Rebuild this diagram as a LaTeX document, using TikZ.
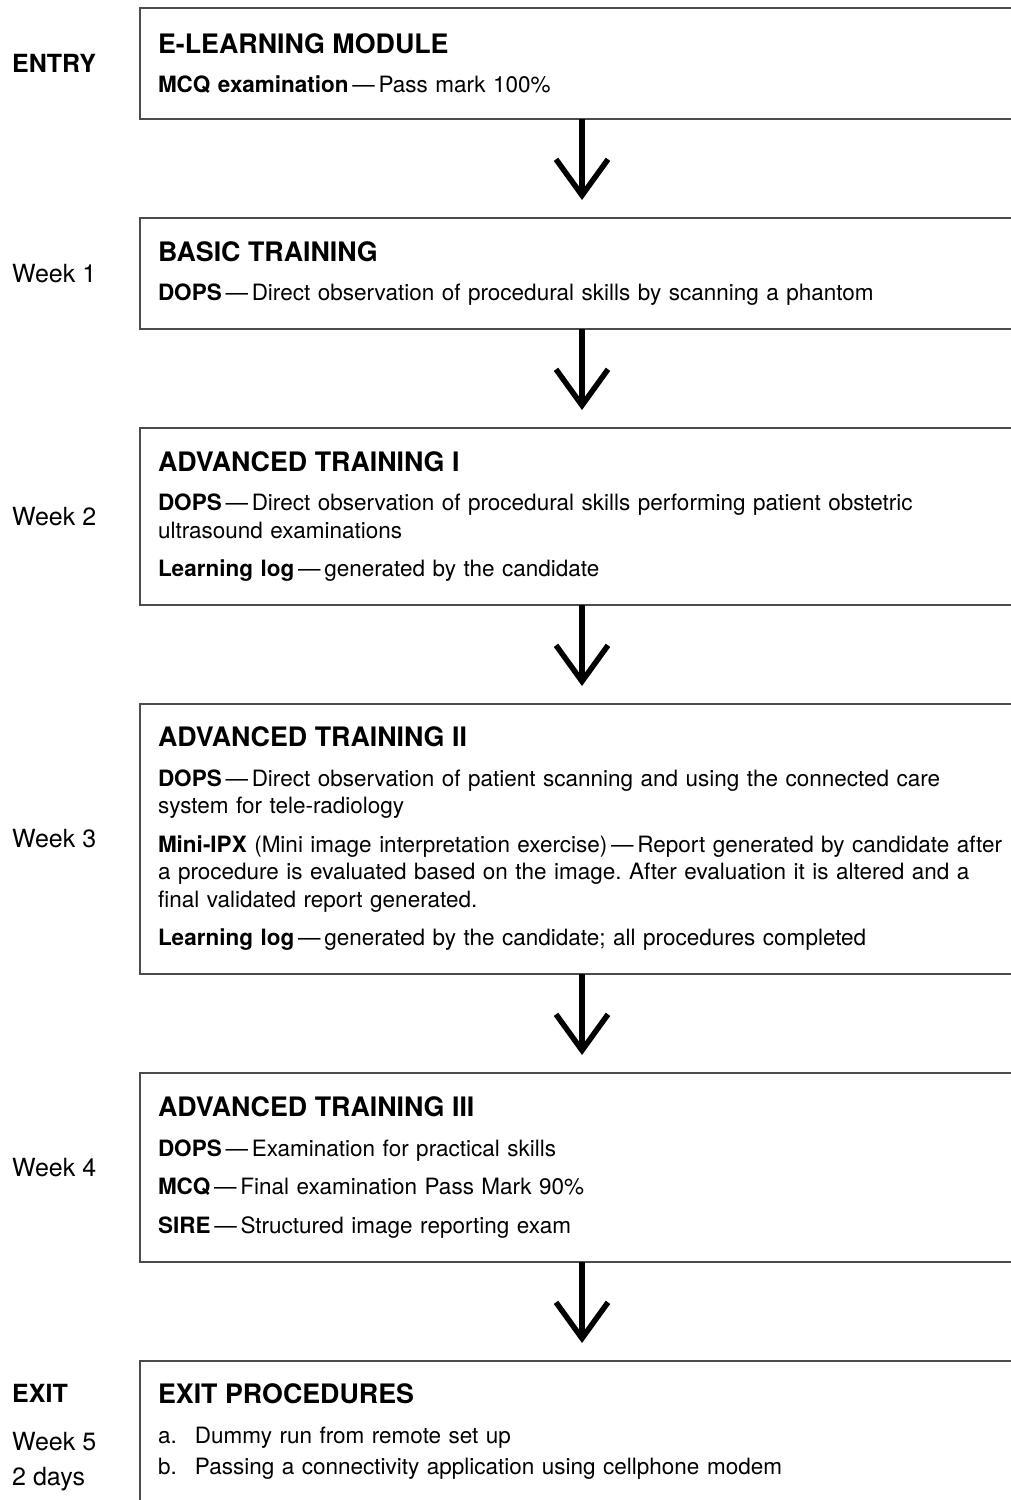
\documentclass[tikz,border=0pt]{standalone}
\usepackage{fontspec}
\setmainfont{TeX Gyre Heros}
\usetikzlibrary{arrows.meta,positioning}
\hyphenpenalty=10000
\exhyphenpenalty=10000
\frenchspacing

\newcommand{\hd}[1]{{\fontsize{26.8}{30}\selectfont\bfseries #1}}
\newcommand{\emd}{\,---\,}

\begin{document}
\begin{tikzpicture}[x=1pt, y=-1pt,
  stage/.style={draw=black!70, line width=1.3pt, minimum width=884pt, text width=848pt,
    inner xsep=18pt, inner ysep=0pt, outer sep=0pt, align=left,
    font=\fontsize{22.5}{27.5}\selectfont},
  wk/.style={anchor=west, inner sep=0pt, font=\fontsize{25}{30}\selectfont},
  flow/.style={line width=5.5pt, -{Straight Barb[length=36pt,width=52pt]}, shorten >=18pt},
  node distance=99pt,
]
\clip (0,0) rectangle (1011,1500);

% stages
\node[stage, minimum height=111pt] (mod) at (582,63.5)
  {\hd{E-LEARNING MODULE}\\[12pt]
   \textbf{MCQ examination}\emd Pass mark 100\%};
\node[stage, minimum height=111pt, below=of mod] (basic)
  {\hd{BASIC TRAINING}\\[12pt]
   \textbf{DOPS}\emd Direct observation of procedural skills by scanning a phantom};
\node[stage, minimum height=177pt, below=of basic] (adv1)
  {\hd{ADVANCED TRAINING I}\\[12pt]
   \textbf{DOPS}\emd Direct observation of procedural skills performing patient obstetric ultrasound examinations\\[11pt]
   \textbf{Learning log}\emd generated by the candidate};
\node[stage, minimum height=270pt, below=of adv1] (adv2)
  {\hd{ADVANCED TRAINING II}\\[12pt]
   \textbf{DOPS}\emd Direct observation of patient scanning and using the connected care system for tele-radiology\\[11pt]
   \textbf{Mini-IPX} (Mini image interpretation exercise)\emd Report generated by candidate after a procedure is evaluated based on the image. After evaluation it is altered and a final validated report generated.\\[11pt]
   \textbf{Learning log}\emd generated by the candidate; all procedures completed};
\node[stage, minimum height=189pt, below=of adv2] (adv3)
  {\hd{ADVANCED TRAINING III}\\[12pt]
   \textbf{DOPS}\emd Examination for practical skills\\[11pt]
   \textbf{MCQ}\emd Final examination Pass Mark 90\%\\[11pt]
   \textbf{SIRE}\emd Structured image reporting exam};
\node[stage, minimum height=142pt, below=of adv3] (exitp)
  {\hd{EXIT PROCEDURES}\\[12pt]
   \makebox[37pt][l]{a.}Dummy run from remote set up\\[4pt]
   \makebox[37pt][l]{b.}Passing a connectivity application using cellphone modem};

% arrows
\draw[flow] (mod) -- (basic);
\draw[flow] (basic) -- (adv1);
\draw[flow] (adv1) -- (adv2);
\draw[flow] (adv2) -- (adv3);
\draw[flow] (adv3) -- (exitp);

% week labels
\node[wk] (entry) at (12,0 |- mod) {\textbf{ENTRY}};
\node[wk] (wk1) at (12,0 |- basic) {Week 1};
\node[wk] (wk2) at (12,0 |- adv1) {Week 2};
\node[wk] (wk3) at (12,0 |- adv2) {Week 3};
\node[wk] (wk4) at (12,0 |- adv3) {Week 4};
\node[wk, anchor=base west] (exitl) at (12,1402) {\textbf{EXIT}};
\node[wk, anchor=base west] (wk5) at (12,1450) {Week 5};
\node[wk, anchor=base west] (days) at (12,1485) {2 days};
\end{tikzpicture}
\end{document}
